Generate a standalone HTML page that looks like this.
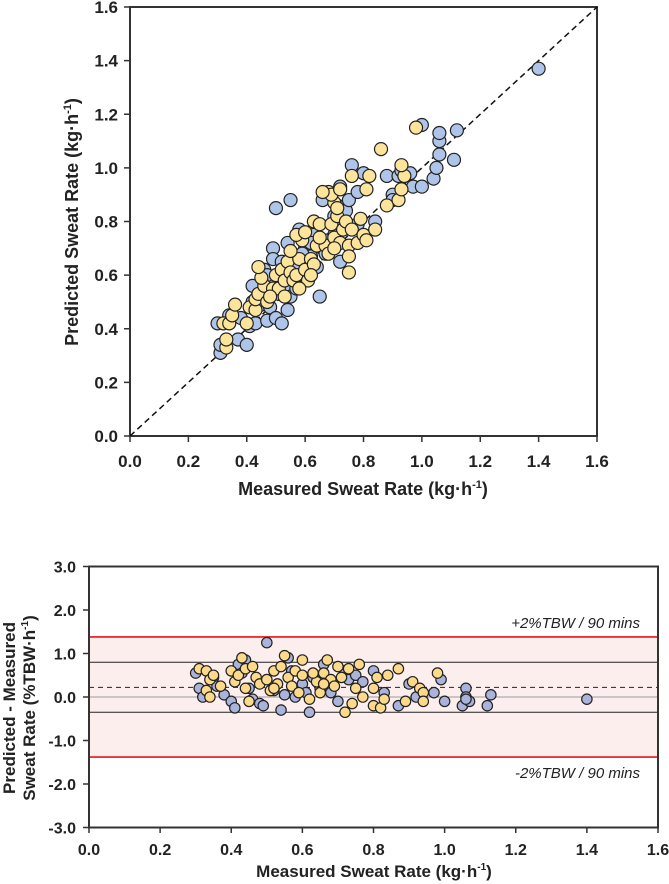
<!DOCTYPE html>
<html><head><meta charset="utf-8"><style>
body{margin:0;background:#fff;width:669px;height:884px;overflow:hidden}
svg{display:block;font-family:"Liberation Sans",Arial,sans-serif}
</style></head><body>
<svg id="svg" width="669" height="884">
<g id="top"></g>
<g id="bot"></g>
</svg>
<script>
const topBlue=[[0.31,0.31],[0.31,0.34],[0.30,0.42],[0.34,0.45],[0.37,0.36],[0.40,0.34],[0.41,0.41],[0.43,0.42],[0.38,0.44],[0.42,0.50],[0.44,0.53],[0.45,0.49],[0.47,0.43],[0.48,0.48],[0.50,0.44],[0.52,0.42],[0.48,0.57],[0.46,0.62],[0.47,0.60],[0.49,0.70],[0.49,0.66],[0.50,0.55],[0.51,0.53],[0.53,0.55],[0.54,0.47],[0.55,0.52],[0.56,0.58],[0.57,0.55],[0.58,0.60],[0.55,0.62],[0.57,0.64],[0.50,0.85],[0.55,0.88],[0.58,0.77],[0.60,0.70],[0.62,0.67],[0.63,0.75],[0.64,0.63],[0.65,0.52],[0.66,0.70],[0.67,0.68],[0.68,0.73],[0.70,0.82],[0.71,0.86],[0.72,0.93],[0.73,0.78],[0.74,0.84],[0.72,0.65],[0.75,0.88],[0.76,1.01],[0.78,0.91],[0.80,0.98],[0.84,0.80],[0.88,0.97],[0.90,0.90],[0.90,0.88],[0.92,0.97],[0.93,0.99],[0.96,0.98],[0.97,0.93],[1.00,0.93],[1.04,0.96],[1.05,1.00],[1.06,1.05],[1.06,1.10],[1.06,1.13],[1.11,1.03],[1.12,1.14],[1.00,1.16],[1.40,1.37],[0.60,0.60],[0.62,0.72],[0.45,0.58],[0.52,0.65],[0.70,0.75],[0.78,0.79],[0.66,0.88],[0.42,0.56],[0.54,0.72],[0.59,0.68]];
const topYellow=[[0.32,0.42],[0.33,0.33],[0.33,0.36],[0.34,0.42],[0.35,0.45],[0.36,0.49],[0.40,0.42],[0.41,0.48],[0.43,0.47],[0.43,0.51],[0.44,0.53],[0.46,0.56],[0.47,0.50],[0.49,0.55],[0.51,0.55],[0.50,0.60],[0.52,0.62],[0.53,0.58],[0.54,0.65],[0.55,0.61],[0.56,0.58],[0.57,0.60],[0.58,0.66],[0.60,0.62],[0.61,0.58],[0.62,0.66],[0.63,0.64],[0.59,0.73],[0.57,0.75],[0.60,0.76],[0.63,0.80],[0.64,0.71],[0.65,0.79],[0.67,0.71],[0.68,0.68],[0.69,0.79],[0.70,0.74],[0.70,0.87],[0.71,0.82],[0.72,0.72],[0.73,0.77],[0.74,0.80],[0.75,0.71],[0.76,0.77],[0.78,0.72],[0.80,0.75],[0.81,0.73],[0.75,0.61],[0.68,0.91],[0.69,0.90],[0.71,0.85],[0.66,0.91],[0.72,0.92],[0.76,0.97],[0.81,0.92],[0.86,1.07],[0.82,0.97],[0.88,0.86],[0.92,0.88],[0.93,0.92],[0.94,0.97],[0.93,1.01],[0.98,1.15],[0.75,0.67],[0.55,0.69],[0.53,0.52],[0.45,0.59],[0.44,0.63],[0.65,0.74],[0.84,0.77],[0.79,0.81],[0.62,0.60],[0.48,0.52],[0.70,0.70],[0.58,0.55]];
const botBlue=[[0.50,1.25],[0.30,0.55],[0.31,0.2],[0.32,0.0],[0.35,0.45],[0.38,0.05],[0.40,-0.1],[0.41,-0.25],[0.42,0.75],[0.44,0.85],[0.45,0.2],[0.46,-0.05],[0.48,-0.15],[0.49,-0.2],[0.52,0.15],[0.54,-0.3],[0.55,0.05],[0.56,0.9],[0.58,0.0],[0.60,0.3],[0.61,0.1],[0.62,-0.35],[0.63,0.45],[0.65,0.2],[0.68,0.1],[0.70,-0.1],[0.72,0.6],[0.73,0.4],[0.75,0.5],[0.77,0.35],[0.80,0.6],[0.83,0.1],[0.87,-0.2],[0.90,0.3],[0.92,0.0],[0.97,0.1],[0.99,0.4],[1.00,-0.1],[1.05,-0.2],[1.06,0.2],[1.06,0.0],[1.07,-0.1],[1.06,-0.05],[1.12,-0.2],[1.13,0.05],[1.40,-0.05],[0.36,0.25],[0.43,0.55],[0.57,0.6],[0.66,0.75]];
const botYellow=[[0.31,0.65],[0.33,0.6],[0.34,0.4],[0.35,0.5],[0.33,0.15],[0.34,0.0],[0.37,0.25],[0.40,0.6],[0.41,0.35],[0.42,0.5],[0.43,0.9],[0.44,0.65],[0.44,0.2],[0.45,-0.1],[0.47,0.45],[0.48,0.3],[0.50,0.4],[0.51,0.15],[0.52,0.6],[0.53,0.3],[0.54,0.7],[0.55,0.95],[0.56,0.45],[0.57,0.25],[0.58,0.6],[0.59,0.1],[0.60,0.5],[0.60,0.85],[0.62,-0.05],[0.64,0.35],[0.65,0.1],[0.66,0.55],[0.67,0.85],[0.68,0.4],[0.69,0.25],[0.70,0.7],[0.71,0.45],[0.72,-0.35],[0.73,0.65],[0.74,-0.15],[0.75,0.2],[0.76,0.75],[0.77,0.0],[0.80,0.2],[0.80,-0.2],[0.81,0.45],[0.82,-0.25],[0.83,-0.05],[0.84,0.5],[0.87,0.65],[0.89,-0.1],[0.91,0.35],[0.93,0.2],[0.94,0.1],[0.94,-0.1],[0.98,0.55],[0.66,0.3],[0.52,0.2],[0.46,0.7],[0.63,0.55]];
const xTicks=[0,0.2,0.4,0.6,0.8,1.0,1.2,1.4,1.6];
const topYTicks=[0,0.2,0.4,0.6,0.8,1.0,1.2,1.4,1.6];
const botYTicks=[-3,-2,-1,0,1,2,3];
const limits=[1.38,-1.38];
const loa=[0.8,-0.35];
const bias=[0.22];

const NS='http://www.w3.org/2000/svg';
function mk(p,t,a,txt){const e=document.createElementNS(NS,t);for(const k in a)e.setAttribute(k,a[k]);if(txt!==undefined)e.textContent=txt;p.appendChild(e);return e;}
function fmt(v){return (v<0?'-':'')+Math.abs(v).toFixed(1);}

// top chart
const T=document.getElementById('top');
const tx=v=>130+v*(597-130)/1.6, ty=v=>436-v*(436-7)/1.6;
let e=mk(T,'rect',{x:130,y:7,width:467,height:429,fill:'none',stroke:'#333','stroke-width':2});

e=mk(T,'line',{x1:tx(0),y1:ty(0),x2:tx(1.6),y2:ty(1.6),stroke:'#111','stroke-width':1.5,'stroke-dasharray':'6,4'});

xTicks.forEach(v=>{mk(T,'line',{x1:tx(v),y1:436,x2:tx(v),y2:442,stroke:'#333','stroke-width':1.5});
 e=mk(T,'text',{x:tx(v),y:467,'text-anchor':'middle','font-size':17,'font-weight':'bold',fill:'#222'},v.toFixed(1));
 });
topYTicks.forEach(v=>{mk(T,'line',{x1:124,y1:ty(v),x2:130,y2:ty(v),stroke:'#333','stroke-width':1.5});
 e=mk(T,'text',{x:118,y:ty(v)+6,'text-anchor':'end','font-size':17,'font-weight':'bold',fill:'#222'},v.toFixed(1));
 });
function dots(p,arr,fx,fy,r,fill,name){arr.forEach(d=>{const c=mk(p,'circle',{cx:fx(d[0]),cy:fy(d[1]),r:r,fill:fill,stroke:'#222','stroke-width':1.2});
 
 });}
dots(T,topBlue,tx,ty,6.5,'#aec4e8','point-blue');
dots(T,topYellow,tx,ty,6.5,'#fde49b','point-yellow');
e=mk(T,'text',{x:363,y:495,'text-anchor':'middle','font-size':18,'font-weight':'bold',fill:'#222'});
e.innerHTML='Measured Sweat Rate (kg·h<tspan dy="-7" font-size="11">-1</tspan><tspan dy="7">)</tspan>';

e=mk(T,'text',{x:0,y:0,transform:'translate(78,222) rotate(-90)','text-anchor':'middle','font-size':18,'font-weight':'bold',fill:'#222'});
e.innerHTML='Predicted Sweat Rate (kg·h<tspan dy="-7" font-size="11">-1</tspan><tspan dy="7">)</tspan>';


// bottom chart
const B=document.getElementById('bot');
const bx=v=>89+v*(658-89)/1.6, by=v=>697-v*43.5;
e=mk(B,'rect',{x:89,y:by(limits[0]),width:569,height:by(limits[1])-by(limits[0]),fill:'#fdeeee'});

limits.forEach(v=>{e=mk(B,'line',{x1:89,x2:658,y1:by(v),y2:by(v),stroke:'#e8121a','stroke-width':1.6});
 });
e=mk(B,'line',{x1:89,x2:658,y1:by(0),y2:by(0),stroke:'#999','stroke-width':1});

loa.forEach(v=>{e=mk(B,'line',{x1:89,x2:658,y1:by(v),y2:by(v),stroke:'#222','stroke-width':1});
 });
bias.forEach(v=>{e=mk(B,'line',{x1:89,x2:658,y1:by(v),y2:by(v),stroke:'#222','stroke-width':1,'stroke-dasharray':'5,4'});
 });
e=mk(B,'rect',{x:89,y:by(3),width:569,height:by(-3)-by(3),fill:'none',stroke:'#333','stroke-width':2});

xTicks.forEach(v=>{mk(B,'line',{x1:bx(v),y1:827,x2:bx(v),y2:833,stroke:'#333','stroke-width':1.5});
 e=mk(B,'text',{x:bx(v),y:855,'text-anchor':'middle','font-size':16,'font-weight':'bold',fill:'#222'},v.toFixed(1));
 });
botYTicks.forEach(v=>{mk(B,'line',{x1:83,y1:by(v),x2:89,y2:by(v),stroke:'#333','stroke-width':1.5});
 e=mk(B,'text',{x:76,y:by(v)+6,'text-anchor':'end','font-size':16,'font-weight':'bold',fill:'#222'},fmt(v));
 });
dots(B,botBlue,bx,by,5.2,'#a9b3db','point-blue');
dots(B,botYellow,bx,by,5.2,'#fdd98a','point-yellow');
e=mk(B,'text',{x:640,y:628,'text-anchor':'end','font-size':15,'font-style':'italic',fill:'#222'},'+2%TBW / 90 mins');

e=mk(B,'text',{x:640,y:778,'text-anchor':'end','font-size':15,'font-style':'italic',fill:'#222'},'-2%TBW / 90 mins');

e=mk(B,'text',{x:374,y:877,'text-anchor':'middle','font-size':17,'font-weight':'bold',fill:'#222'});
e.innerHTML='Measured Sweat Rate (kg·h<tspan dy="-7" font-size="10">-1</tspan><tspan dy="7">)</tspan>';

e=mk(B,'text',{x:0,y:0,transform:'translate(15,708) rotate(-90)','text-anchor':'middle','font-size':17,'font-weight':'bold',fill:'#222'},'Predicted - Measured');

e=mk(B,'text',{x:0,y:0,transform:'translate(35,708) rotate(-90)','text-anchor':'middle','font-size':17,'font-weight':'bold',fill:'#222'});
e.innerHTML='Sweat Rate (%TBW·h<tspan dy="-7" font-size="10">-1</tspan><tspan dy="7">)</tspan>';

</script>
</body></html>
